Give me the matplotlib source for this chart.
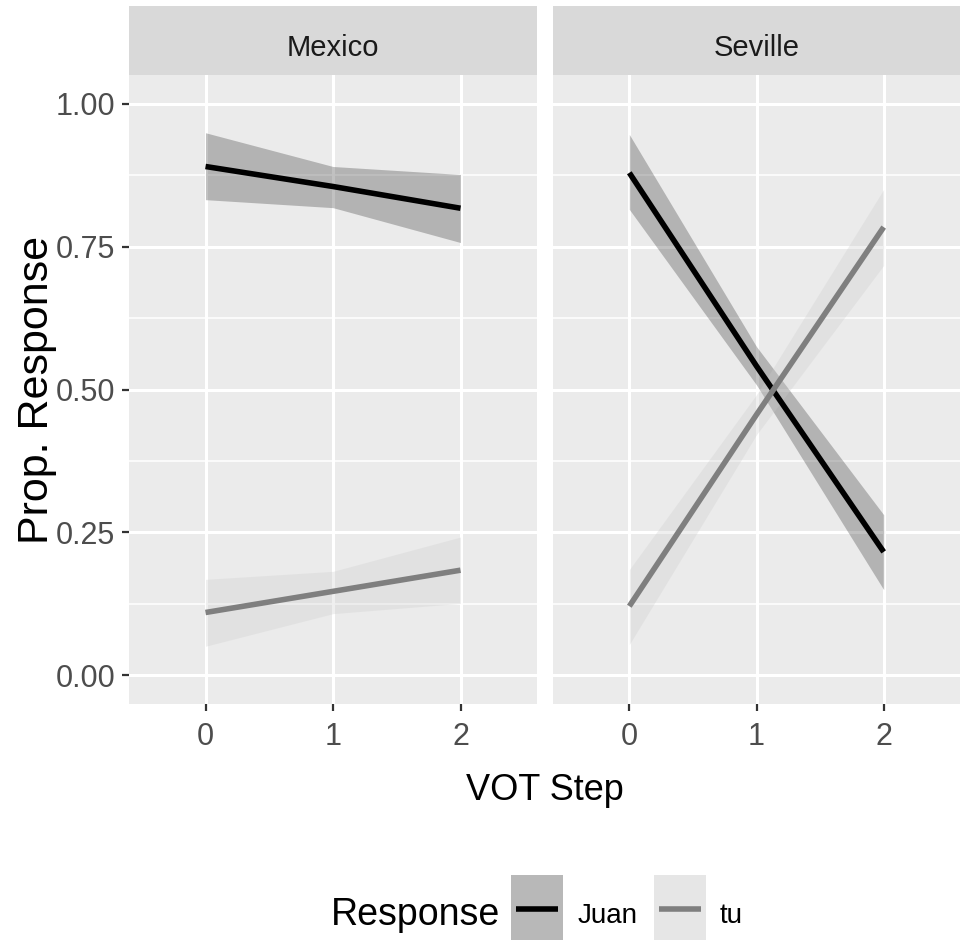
import numpy as np
import matplotlib
matplotlib.use("Agg")
import matplotlib.pyplot as plt
from matplotlib.patches import Rectangle
from matplotlib.lines import Line2D

plt.rcParams['font.family'] = ['Liberation Sans', 'DejaVu Sans']

# data
steps = [0, 1, 2]
regions = ['Mexico', 'Seville']
responses = ['Juan', 'tu']

mex_juan = [0.890, 0.855, 0.817]
mex_juan_lo = [0.832, 0.818, 0.757]
mex_juan_hi = [0.949, 0.890, 0.876]
mex_tu = [0.110, 0.147, 0.184]
mex_tu_lo = [0.051, 0.108, 0.126]
mex_tu_hi = [0.168, 0.182, 0.242]

sev_juan = [0.879, 0.541, 0.216]
sev_juan_lo = [0.815, 0.508, 0.150]
sev_juan_hi = [0.946, 0.575, 0.281]
sev_tu = [0.121, 0.456, 0.784]
sev_tu_lo = [0.054, 0.421, 0.717]
sev_tu_hi = [0.185, 0.491, 0.850]

series = {
    'Mexico': {'Juan': (mex_juan, mex_juan_lo, mex_juan_hi),
               'tu': (mex_tu, mex_tu_lo, mex_tu_hi)},
    'Seville': {'Juan': (sev_juan, sev_juan_lo, sev_juan_hi),
                'tu': (sev_tu, sev_tu_lo, sev_tu_hi)},
}
line_col = {'Juan': '#000000', 'tu': '#7f7f7f'}
fill_col = {'Juan': '#333333', 'tu': '#cccccc'}

W, H = 961, 940
fig = plt.figure(figsize=(W / 100, H / 100), dpi=100)
fig.patch.set_facecolor('white')

def fx(px):
    return px / W

def fy(py):
    return 1 - py / H

panel_top, panel_bot = 75, 704
strip_top = 6
panels_x = [(129, 537), (553, 960)]
tick_fs = 22
txt_col = '#4d4d4d'
lw_line = 4.0

for i, (reg, (x0, x1)) in enumerate(zip(regions, panels_x)):
    ax = fig.add_axes([fx(x0), fy(panel_bot), fx(x1 - x0), (panel_bot - panel_top) / H])
    ax.set_facecolor('#ebebeb')
    for s in ax.spines.values():
        s.set_visible(False)
    ax.set_xlim(-0.6, 2.6)
    ax.set_ylim(-0.05, 1.05)
    ax.set_yticks([0, 0.25, 0.5, 0.75, 1.0])
    ax.set_yticks([0.125, 0.375, 0.625, 0.875], minor=True)
    ax.set_xticks(steps)
    ax.grid(True, which='major', color='white', lw=2.2)
    ax.grid(True, which='minor', axis='y', color='white', lw=1.1)
    ax.set_axisbelow(True)
    ax.tick_params(which='major', length=5, width=1.6, color='#333333',
                   labelsize=tick_fs, labelcolor=txt_col)
    ax.tick_params(axis='x', pad=8)
    ax.tick_params(axis='y', pad=5)
    ax.tick_params(which='minor', length=0)
    ax.set_xticklabels([str(s) for s in steps])
    if i == 0:
        ax.set_yticklabels(['0.00', '0.25', '0.50', '0.75', '1.00'])
    else:
        ax.tick_params(axis='y', which='major', length=0, labelleft=False)

    for r in responses:
        mid, lo, hi = series[reg][r]
        ax.fill_between(steps, lo, hi, color=fill_col[r], alpha=0.3, lw=0)
        ax.plot(steps, mid, color=line_col[r], lw=lw_line, solid_capstyle='butt')

    # facet strip
    sax = fig.add_axes([fx(x0), fy(panel_top), fx(x1 - x0), (panel_top - strip_top) / H])
    sax.set_facecolor('#d9d9d9')
    sax.set_xticks([])
    sax.set_yticks([])
    for s in sax.spines.values():
        s.set_visible(False)
    fig.text(fx((x0 + x1) / 2), fy(56), reg, ha='center', va='baseline',
             fontsize=21, color='#1a1a1a')

# axis titles
fig.text(fx(37), fy(390), 'Prop. Response', rotation=90, ha='center', va='center',
         fontsize=31)
fig.text(fx(545), fy(800), 'VOT Step', ha='center', va='baseline', fontsize=26)

# legend
fig.text(fx(500), fy(925), 'Response', ha='right', va='baseline', fontsize=27)
key_x = {'Juan': 511, 'tu': 654}
lab_x = {'Juan': 578, 'tu': 720}
for r in responses:
    kx = key_x[r]
    bg = Rectangle((fx(kx), fy(940)), fx(52), 65 / H, transform=fig.transFigure,
                   facecolor='#f2f2f2', edgecolor='none')
    fig.add_artist(bg)
    key = Rectangle((fx(kx), fy(940)), fx(52), 65 / H, transform=fig.transFigure,
                    facecolor=fill_col[r], alpha=0.3, edgecolor='none')
    fig.add_artist(key)
    fig.add_artist(Line2D([fx(kx + 5), fx(kx + 47)], [fy(909), fy(909)],
                          transform=fig.transFigure, color=line_col[r], lw=lw_line,
                          solid_capstyle='butt'))
    fig.text(fx(lab_x[r]), fy(923), r, ha='left', va='baseline', fontsize=20)

fig.savefig('out.png', dpi=100)
